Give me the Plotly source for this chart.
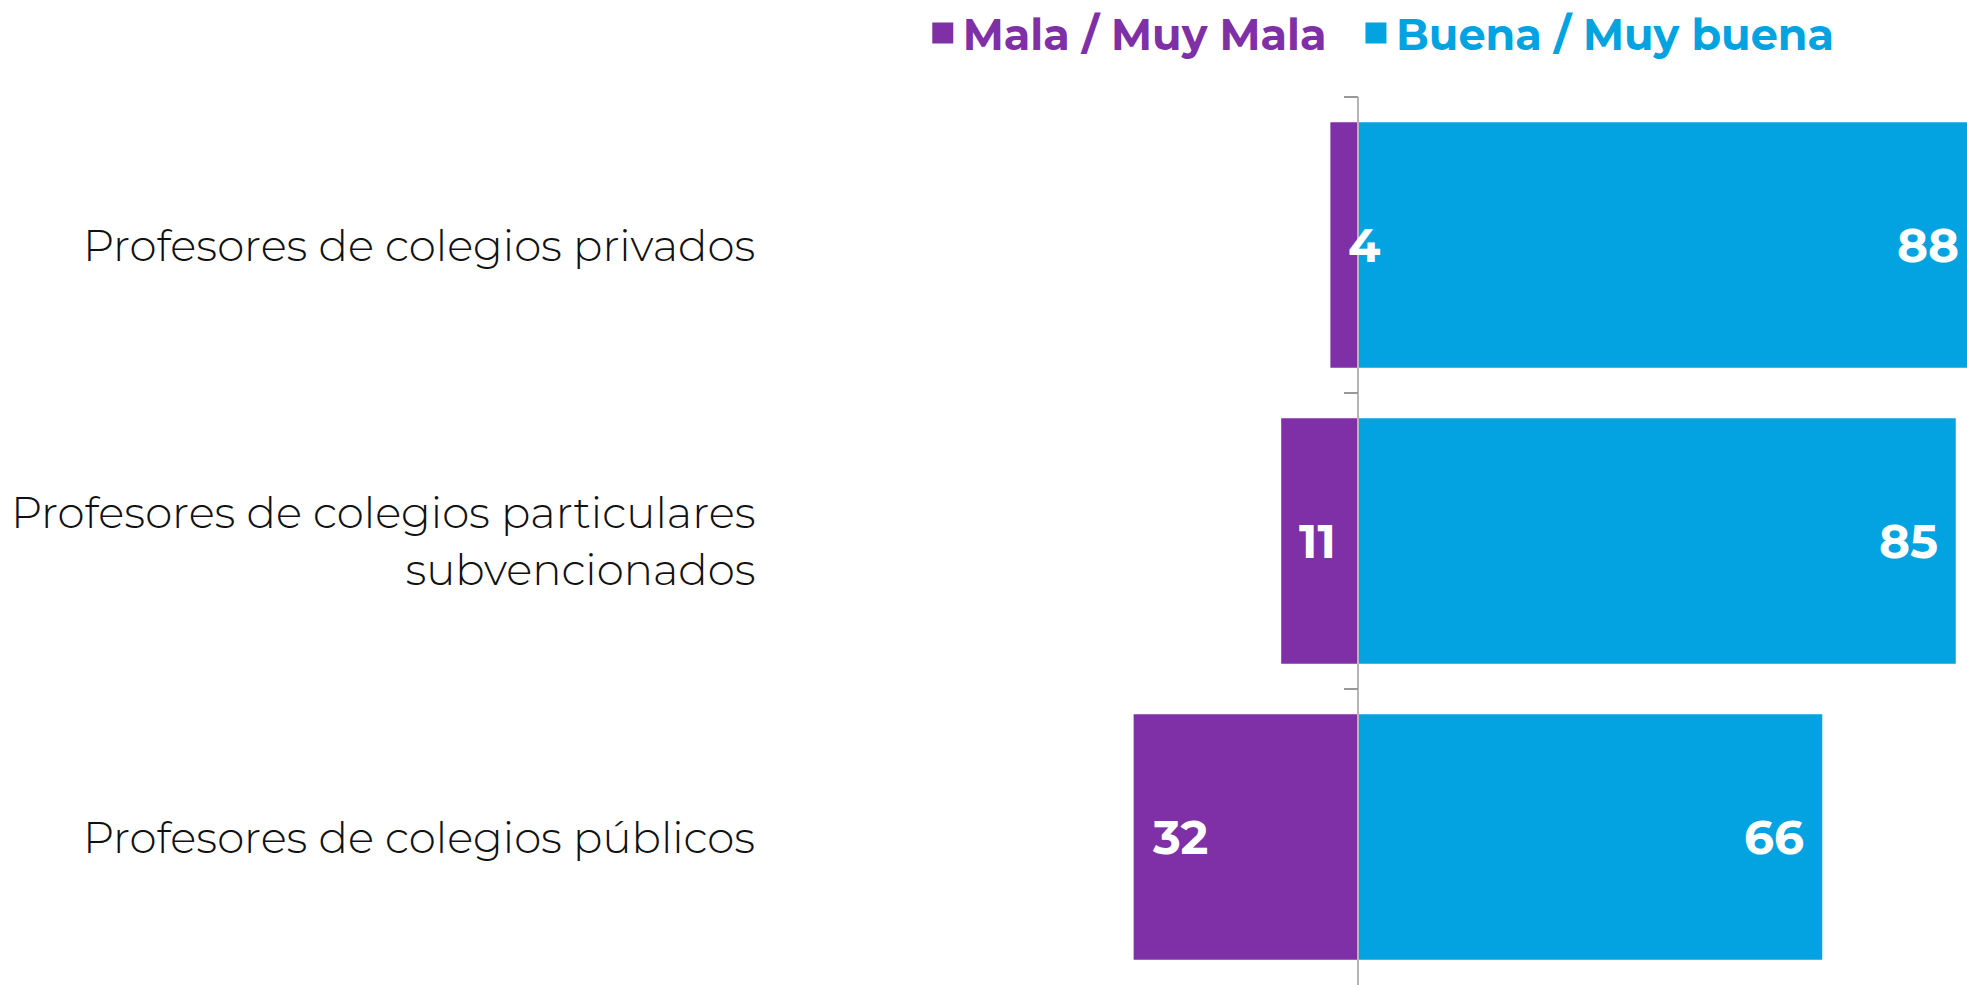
import plotly.graph_objects as go

categories = [
    "Profesores de colegios privados",
    "Profesores de colegios particulares<br>subvencionados",
    "Profesores de colegios públicos",
]
mala = [4, 11, 32]
buena = [88, 85, 66]
series_names = ["Mala / Muy Mala", "Buena / Muy buena"]

PURPLE = "#7F30A6"
BLUE = "#02A3E0"
FONT = "Montserrat, 'Open Sans', 'DejaVu Sans', sans-serif"

FIG_W, FIG_H = 1967, 985
M_L, M_R, M_T, M_B = 757, 0, 97, 0
x_min, x_max = -85.6, 86.6
zero_pos = (0 - x_min) / (x_max - x_min)
unit_px = (FIG_W - M_L - M_R) / (x_max - x_min)
LABEL_PAD = 16

fig = go.Figure()
fig.add_trace(go.Bar(
    y=categories, x=[-v for v in mala], orientation="h",
    name=series_names[0], legendgroup="mala", showlegend=False,
    marker=dict(color=PURPLE, line=dict(width=0)),
    customdata=mala, hovertemplate="%{y}: %{customdata}<extra></extra>",
))
fig.add_trace(go.Bar(
    y=categories, x=buena, orientation="h",
    name=series_names[1], legendgroup="buena", showlegend=False,
    marker=dict(color=BLUE, line=dict(width=0)),
    hovertemplate="%{y}: %{x}<extra></extra>",
))
# legend entries (larger square swatches, coloured text)
legend_specs = [
    (series_names[0], PURPLE, "mala", "\u00a0\u00a0"),
    (series_names[1], BLUE, "buena", ""),
]
for nm, col, grp, trail in legend_specs:
    fig.add_trace(go.Scatter(
        x=[None], y=[None], mode="markers", legendgroup=grp,
        name=f'<span style="color:{col}">{nm}</span>{trail}',
        marker=dict(symbol="square", size=18, color=col, line=dict(width=6, color=col)),
        hoverinfo="skip",
    ))

annotations = []
for cat, m, b in zip(categories, mala, buena):
    annotations.append(dict(
        x=0, xref="paper", y=cat, yref="y", text=cat, showarrow=False,
        xanchor="right", align="right", xshift=0,
        font=dict(family=FONT, size=43.5, color="#111111", weight=300),
    ))
    m_anchor = max(-m, x_min)
    annotations.append(dict(
        x=m_anchor, y=cat, text=f"{m}", showarrow=False,
        xanchor="left", xshift=LABEL_PAD - (m_anchor + m) * unit_px,
        font=dict(family=FONT, size=47, color="white", weight=700),
    ))
    b_anchor = min(b, x_max)
    annotations.append(dict(
        x=b_anchor, y=cat, text=f"{b}", showarrow=False,
        xanchor="right", xshift=-LABEL_PAD + (b - b_anchor) * unit_px,
        font=dict(family=FONT, size=47, color="white", weight=700),
    ))

fig.update_layout(
    width=FIG_W, height=FIG_H,
    margin=dict(l=M_L, r=M_R, t=M_T, b=M_B, autoexpand=False),
    paper_bgcolor="white", plot_bgcolor="white",
    barmode="relative", bargap=0.17,
    showlegend=True,
    legend=dict(
        orientation="h", x=0.137, xanchor="left", y=1.072, yanchor="middle",
        font=dict(family=FONT, size=43, color="#333333", weight="bold"),
        bgcolor="rgba(0,0,0,0)", traceorder="normal",
    ),
    xaxis=dict(range=[x_min, x_max], visible=False, showgrid=False, zeroline=False),
    yaxis=dict(
        type="category", autorange="reversed",
        categoryorder="array", categoryarray=categories,
        anchor="free", position=zero_pos,
        showline=True, linecolor="#B5B5B5", linewidth=1.5,
        ticks="outside", tickson="boundaries", ticklen=14,
        tickcolor="#999999", tickwidth=1.5,
        showticklabels=False, showgrid=False, zeroline=False,
    ),
    annotations=annotations,
)

fig.write_html(
    "out.html",
    config={"displayModeBar": False},
    post_script=(
        "document.body.style.margin='0';"
        "document.documentElement.style.overflow='hidden';"
        "document.body.style.overflow='hidden';"
    ),
)
